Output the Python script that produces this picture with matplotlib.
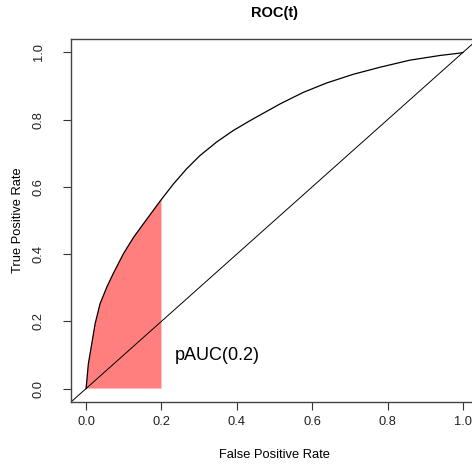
import numpy as np
import matplotlib
matplotlib.use('Agg')
import matplotlib.pyplot as plt

# ROC curve
fpr = [0.0, 0.006, 0.015, 0.024, 0.037, 0.055, 0.072, 0.099, 0.126, 0.152, 0.196,
       0.232, 0.267, 0.302, 0.347, 0.391, 0.435, 0.470, 0.515, 0.576, 0.638,
       0.709, 0.780, 0.859, 0.939, 0.992, 1.0]
tpr = [0.0, 0.073, 0.133, 0.193, 0.252, 0.302, 0.342, 0.401, 0.450, 0.490, 0.557,
       0.609, 0.654, 0.693, 0.734, 0.768, 0.797, 0.819, 0.847, 0.881, 0.909,
       0.935, 0.956, 0.977, 0.991, 0.998, 1.0]
fpr_cut = 0.2
ticks = [0.0, 0.2, 0.4, 0.6, 0.8, 1.0]
tick_labels = ['0.0', '0.2', '0.4', '0.6', '0.8', '1.0']

plt.rcParams['font.family'] = ['Liberation Sans', 'DejaVu Sans']

fig = plt.figure(figsize=(4.72, 4.68), dpi=100)
ax = fig.add_axes([71 / 472, 66 / 468, 407 / 472, 363 / 468])

ax.plot(fpr, tpr, color='black', lw=0.9)
ax.plot([-0.1, 1.1], [-0.1, 1.1], color='black', lw=0.7)

# shaded partial AUC region
fx = np.array(fpr)
fy = np.array(tpr)
mask = fx <= fpr_cut
px = np.concatenate([fx[mask], [fpr_cut, fpr_cut, 0.0]])
py = np.concatenate([fy[mask], [np.interp(fpr_cut, fx, fy), 0.0, 0.0]])
ax.fill(px, py, color='red', alpha=0.5, lw=0)

ax.text(0.236, 0.098, 'pAUC(0.2)', fontsize=13, va='center', ha='left')

ax.set_xlim(-0.04, 1.04)
ax.set_ylim(-0.04, 1.04)
ax.set_xticks(ticks)
ax.set_xticklabels(tick_labels)
ax.set_yticks(ticks)
ax.set_yticklabels(tick_labels, rotation=90, va='center')
ax.tick_params(axis='both', direction='out', length=6, width=0.8, colors='#333333', labelsize=9.3, labelcolor='#222222')
ax.tick_params(axis='x', pad=4)
ax.tick_params(axis='y', pad=13)
for s in ax.spines.values():
    s.set_color('#444444')
    s.set_linewidth(1.0)

ax.set_xlabel('False Positive Rate', fontsize=9.3, labelpad=15)
ax.set_ylabel('True Positive Rate', fontsize=9.3, labelpad=6)
ax.set_title('ROC(t)', fontsize=10.5, fontweight='bold', pad=16)

fig.savefig('out.png', dpi=100)
